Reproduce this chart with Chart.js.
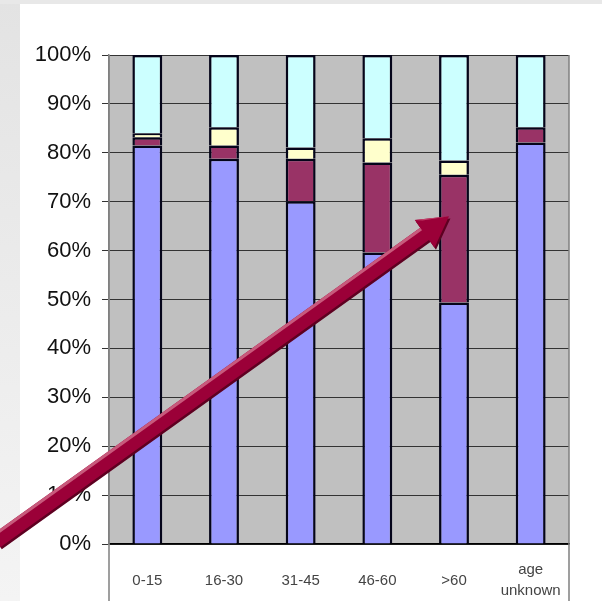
<!DOCTYPE html>
<html>
<head>
<meta charset="utf-8">
<script src="https://cdn.jsdelivr.net/npm/chart.js@4"></script>
<style>
  html, body { margin: 0; padding: 0; background: #fff; }
  canvas { display: block; }
</style>
</head>
<body>
<canvas id="chart" width="602" height="601"></canvas>
<script>
// age groups on the x axis
const categories = ['0-15', '16-30', '31-45', '46-60', '>60', ['age', 'unknown']];

// share of each outcome per age group (percent, each column sums to 100)
const blueShare   = [81.5, 78.8, 70.1, 59.6, 49.4, 82.1];
const maroonShare = [1.7, 2.7, 8.7, 18.4, 26.1, 3.1];
const yellowShare = [0.8, 3.7, 2.3, 5.0, 2.9, 0];
const cyanShare   = [16.0, 14.8, 18.9, 17.0, 21.6, 14.8];

// y axis ticks
const yMin = 0;
const yMax = 100;
const yStep = 10;

// the arrow drawn over the chart (tail at the left edge, tip on the >60 bar)
const arrowTailValue = 0.6;
const arrowTipCategory = 4;
const arrowTipValue = 67;

Chart.defaults.font.family = "'Liberation Sans', Arial, sans-serif";

// grey page edge, white panel and grey plot area
const backdrop = {
  id: 'backdrop',
  beforeDraw(chart) {
    const { ctx, chartArea: a, width, height } = chart;
    ctx.save();
    const g = ctx.createLinearGradient(0, 0, 0, height);
    g.addColorStop(0, '#e3e3e3');
    g.addColorStop(1, '#f4f4f4');
    ctx.fillStyle = g;
    ctx.fillRect(0, 0, width, height);
    ctx.fillStyle = '#e8e8e8';
    ctx.fillRect(0, 0, width, 4);
    ctx.fillStyle = '#ffffff';
    ctx.fillRect(20, 4, width - 20, height - 4);
    ctx.fillStyle = '#c0c0c0';
    ctx.fillRect(a.left, a.top, a.right - a.left, a.bottom - a.top);
    ctx.restore();
  },
  afterDatasetsDraw(chart) {
    // side lines run down through the label row
    const { ctx, chartArea: a, height } = chart;
    ctx.save();
    ctx.strokeStyle = '#808080';
    ctx.lineWidth = 1.5;
    ctx.beginPath();
    ctx.moveTo(a.left, a.top);
    ctx.lineTo(a.left, height);
    ctx.moveTo(a.right, a.top);
    ctx.lineTo(a.right, height);
    ctx.stroke();
    ctx.restore();
  }
};

const arrow = {
  id: 'arrow',
  afterDraw(chart) {
    const { ctx } = chart;
    const xs = chart.scales.x, ys = chart.scales.y;
    const tip = { x: xs.getPixelForValue(arrowTipCategory) - 5, y: ys.getPixelForValue(arrowTipValue) };
    const tail = { x: -4, y: ys.getPixelForValue(arrowTailValue) };
    const dx = tip.x - tail.x, dy = tip.y - tail.y;
    const len = Math.hypot(dx, dy);
    const u = { x: dx / len, y: dy / len };
    const n = { x: -u.y, y: u.x };
    const L = 30, H = 17, w = 7.5;
    const base = { x: tip.x - u.x * L, y: tip.y - u.y * L };
    const p = (pt, k, m = 0) => [pt.x + n.x * k + u.x * m, pt.y + n.y * k + u.y * m];
    const poly = pts => {
      ctx.beginPath();
      pts.forEach((q, i) => (i ? ctx.lineTo(q[0], q[1]) : ctx.moveTo(q[0], q[1])));
      ctx.closePath();
    };
    const outline = off => poly([p(tail, -w + off), p(base, -w + off), p(base, -H + off), p(tip, off),
      p(base, H + off), p(base, w + off), p(tail, w + off)]);

    ctx.save();
    // shadow
    outline(2.5);
    ctx.fillStyle = '#5e0021';
    ctx.fill();
    // body
    outline(0);
    ctx.fillStyle = '#9b0038';
    ctx.fill();
    // highlight on the upper edge of the shaft
    poly([p(tail, -w), p(base, -w), p(base, -w + 3), p(tail, -w + 3)]);
    ctx.fillStyle = '#c85a7c';
    ctx.fill();
    // highlight on the upper face of the head
    poly([p(base, -H), p(tip, 0), p(base, -H + 5, 6)]);
    ctx.fillStyle = '#c23d68';
    ctx.fill();
    ctx.restore();
  }
};

const ds = (label, data, color) => ({
  label,
  data,
  backgroundColor: color,
  borderColor: '#05051a',
  borderWidth: 2.5,
  barPercentage: 0.39,
  categoryPercentage: 1
});

new Chart(document.getElementById('chart'), {
  type: 'bar',
  data: {
    labels: categories,
    datasets: [
      ds('blue', blueShare, '#9999ff'),
      ds('maroon', maroonShare, '#993366'),
      ds('yellow', yellowShare, '#ffffcc'),
      ds('cyan', cyanShare, '#ccffff')
    ]
  },
  options: {
    responsive: false,
    animation: false,
    layout: { padding: { top: 55, right: 33, left: 0, bottom: 0 } },
    plugins: { legend: { display: false }, tooltip: { enabled: false } },
    scales: {
      x: {
        stacked: true,
        grid: { display: false },
        border: { display: true, color: '#000', width: 1.5 },
        ticks: {
          color: '#444',
          font: { size: 15, lineHeight: 1.4 },
          padding: 18,
          crossAlign: 'center',
          maxRotation: 0,
          autoSkip: false
        },
        afterFit: s => { s.height = 57; }
      },
      y: {
        stacked: true,
        min: yMin,
        max: yMax,
        ticks: {
          stepSize: yStep,
          callback: v => v + '%',
          color: '#111',
          font: { size: 22 },
          padding: 11
        },
        grid: { color: '#333', lineWidth: 1, tickLength: 7 },
        border: { color: '#808080', width: 1.5 },
        afterFit: s => { s.width = 109; }
      }
    }
  },
  plugins: [backdrop, arrow]
});
</script>
</body>
</html>
